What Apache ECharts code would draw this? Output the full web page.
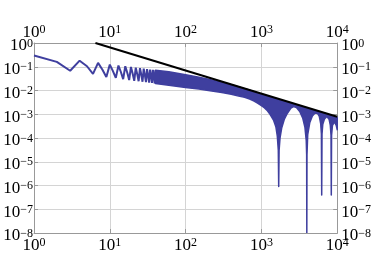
<!DOCTYPE html>
<html><head><meta charset="utf-8">
<script src="https://cdn.jsdelivr.net/npm/echarts@6/dist/echarts.min.js"></script>
<style>html,body{margin:0;padding:0;background:#fff}#c{width:374px;height:256px}</style>
</head><body><div id="c"></div>
<script>
// tick labels (exponents of 10)
const xTickExp = [0, 1, 2, 3, 4];
const yTickExp = [-8, -7, -6, -5, -4, -3, -2, -1, 0];

// reference line (black)
const refX = [6.46, 10000];
const refY = [1, 0.00079];

// low-x oscillating samples (blue line)
const zigX = [1,2,3,4,5,6,7,8,9,10,11,12,13,14,15,16,17,18,19,20,21,22,23,24,25,26,27,28,29,30,31,32,33,34,35,36,37,38,39,40,41,42,43,44,45];
const zigY = [0.30,0.16,0.068,0.18,0.105,0.050,0.145,0.075,0.037,0.123,0.065,0.034,0.112,0.060,0.030,0.105,0.056,0.0275,
              0.098,0.052,0.0257,0.091,0.049,0.0245,0.087,0.047,0.0234,0.083,0.045,0.0224,0.079,0.043,0.0214,0.076,0.041,0.0209,
              0.074,0.040,0.020,0.071,0.039,0.0195,0.069,0.038,0.019];

// dense oscillation band: upper envelope
const upX = [40,60,100,150,200,300,400,500,600,700,800,1000,1300,1600,2000,2600,3000,4000,5200,6000,7300,8000,10000];
const upY = [0.071,0.062,0.046,0.036,0.030,0.022,0.0175,0.0142,0.0120,0.0102,0.0089,0.0070,0.0054,0.0044,0.0035,0.0027,0.00235,0.00178,0.00138,0.00120,0.00100,0.00091,0.00073];
// dense oscillation band: lower envelope
const loX = [40,60,100,150,200,300,400,500,600,700,800,900,1000,1100,1200,1300,1450,1550,1620,1670,1690,1710,1760,1850,2000,2200,2450,2650,2900,3200,3500,3750,3900,3950,3970,3990,4080,4350,4700,5100,5500,5800,6050,6180,6240,6300,6450,6800,7300,7800,8100,8280,8350,8420,8650,9200,9700,10000];
const loY = [0.0198,0.0168,0.0135,0.0115,0.0100,0.0083,0.0070,0.0058,0.0052,0.0044,0.0036,0.0029,0.0023,0.00185,0.00140,0.00100,0.00055,0.00030,0.00012,0.00003,0.0000009,0.00003,0.00010,0.00026,0.00060,0.0011,0.0018,0.0021,0.0019,0.0013,0.00070,0.00028,0.00008,0.00002,0.00000001,0.00002,0.00014,0.00045,0.00085,0.00112,0.00108,0.00082,0.00040,0.00015,0.0000004,0.00015,0.00038,0.00064,0.00080,0.00062,0.00035,0.00013,0.0000004,0.00013,0.00034,0.00048,0.00034,0.00022];

const BLUE = '#3f3f9f';
const FRAME = '#999999';
const GRID = '#d4d4d4';
const FONT = 'Liberation Serif';

function fmt(v) {
  const e = Math.round(Math.log10(v));
  const all = xTickExp.concat(yTickExp);
  if (all.indexOf(e) < 0) return '';
  return '{b|10}{s|' + (e < 0 ? '\u2212' + (-e) : String(e)) + '}';
}
const rich = {
  b: {fontFamily: FONT, fontSize: 17, lineHeight: 17, color: '#000', verticalAlign: 'bottom'},
  s: {fontFamily: FONT, fontSize: 12, lineHeight: 8, color: '#000', verticalAlign: 'top'}
};
function xAx(pos, grid, margin) {
  return {
    type: 'log', logBase: 10, min: 1, max: 10000, splitNumber: 4, position: pos,
    axisLine: {show: true, lineStyle: {color: FRAME, width: 1}},
    axisTick: {show: true, inside: true, length: 4, lineStyle: {color: FRAME}},
    minorTick: {show: false},
    splitLine: {show: grid, lineStyle: {color: GRID, width: 1}},
    axisLabel: {show: true, formatter: fmt, rich: rich, margin: margin}
  };
}
function yAx(pos, grid, margin, pad) {
  return {
    type: 'log', logBase: 10, min: 1e-8, max: 1, splitNumber: 8, position: pos,
    axisLine: {show: true, lineStyle: {color: FRAME, width: 1}},
    axisTick: {show: true, inside: true, length: 4, lineStyle: {color: FRAME}},
    minorTick: {show: false},
    splitLine: {show: grid, lineStyle: {color: GRID, width: 1}},
    axisLabel: {show: true, formatter: fmt, rich: rich, margin: margin, padding: pad}
  };
}

const chart = echarts.init(document.getElementById('c'), null, {renderer: 'canvas'});
chart.setOption({
  animation: false,
  backgroundColor: '#fff',
  grid: {left: 34, right: 34, top: 43, bottom: 23, containLabel: false},
  xAxis: [xAx('bottom', true, 4), xAx('top', false, 2)],
  yAxis: [yAx('left', true, 1, [6, 0, 0, 0]), yAx('right', false, 4, [6, 0, 0, 0])],
  series: [
    {
      type: 'custom', xAxisIndex: 0, yAxisIndex: 0, clip: true,
      data: [[100, 0.01]],
      renderItem: function (params, api) {
        const pts = [];
        for (let i = 0; i < upX.length; i++) pts.push(api.coord([upX[i], upY[i]]));
        for (let i = loX.length - 1; i >= 0; i--) pts.push(api.coord([loX[i], loY[i]]));
        return {type: 'polygon', shape: {points: pts},
          style: {fill: BLUE, stroke: BLUE, lineWidth: 1.5, lineJoin: 'round'}};
      },
      z: 3
    },
    {
      type: 'line', xAxisIndex: 0, yAxisIndex: 0, showSymbol: false, symbol: 'none',
      data: zigX.map((x, i) => [x, zigY[i]]),
      lineStyle: {color: BLUE, width: 2}, z: 4
    },
    {
      type: 'line', xAxisIndex: 0, yAxisIndex: 0, showSymbol: false, symbol: 'none',
      data: refX.map((x, i) => [x, refY[i]]),
      lineStyle: {color: '#000', width: 2}, z: 5
    }
  ]
});
</script>
</body></html>
